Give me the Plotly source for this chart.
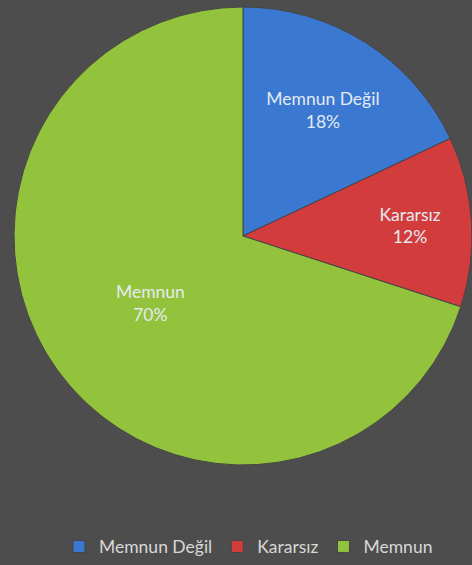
import plotly.graph_objects as go

labels = ["Memnun Değil", "Kararsız", "Memnun"]
values = [18, 12, 70]
colors = ["#3a78d2", "#d23c3c", "#93c23c"]

fig = go.Figure(go.Pie(
    labels=labels,
    values=values,
    sort=False,
    direction="clockwise",
    rotation=0,
    marker=dict(colors=colors, line=dict(color="#454545", width=1)),
    texttemplate="%{label}<br>%{percent:.0%}",
    textposition="inside",
    insidetextorientation="horizontal",
    textfont=dict(family="Lato, Open Sans, sans-serif", size=17.5, color="#e4ebf0"),
    hoverinfo="label+percent",
    domain=dict(x=[0, 1], y=[0, 1]),
))

fig.update_layout(
    width=472,
    height=565,
    paper_bgcolor="#4d4d4d",
    plot_bgcolor="#4d4d4d",
    margin=dict(l=14, r=0, t=0, b=89),
    showlegend=True,
    legend=dict(
        orientation="h",
        x=0.512, xanchor="center",
        y=-0.158, yanchor="middle",
        font=dict(family="Lato, Open Sans, sans-serif", size=17.5, color="#d8d8d8"),
        bgcolor="rgba(0,0,0,0)",
        itemwidth=30,
    ),
)

fig.write_html(
    "out.html",
    config={"displayModeBar": False},
    post_script="document.body.style.margin='0';document.body.style.overflow='hidden';",
)
